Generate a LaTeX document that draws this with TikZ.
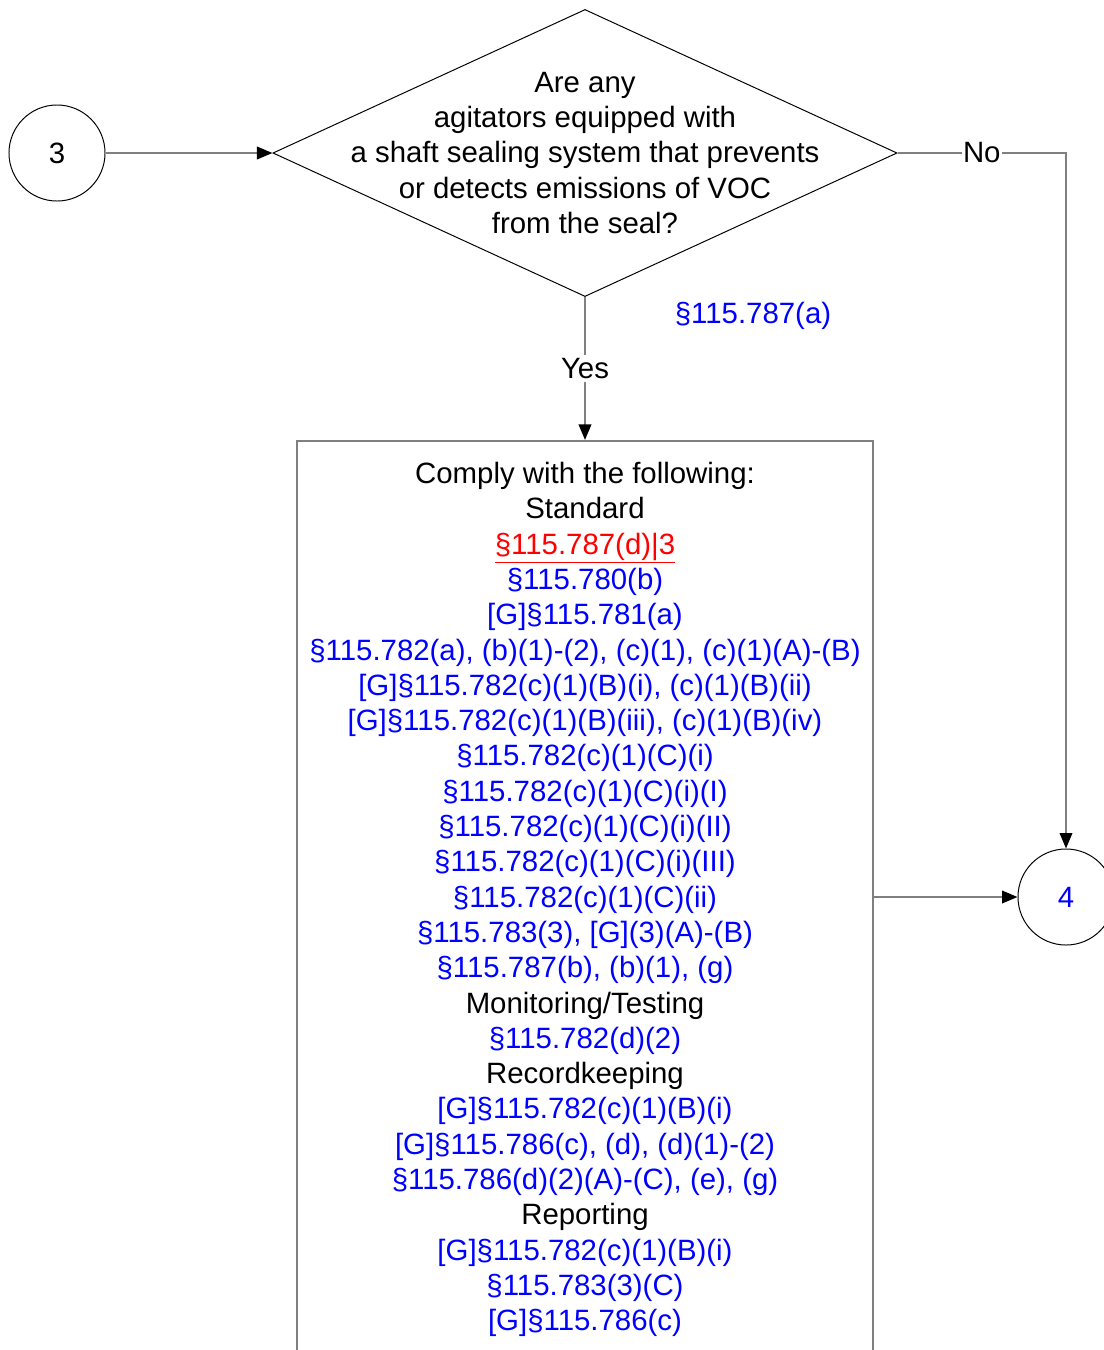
\documentclass[tikz,border=0pt]{standalone}
\usepackage{fontspec}
\setmainfont{Liberation Sans}
\usetikzlibrary{shapes.geometric, arrows.meta, positioning}

\begin{document}
\begin{tikzpicture}[x=0.025cm, y=-0.025cm, font=\fontsize{20.9}{25.1}\selectfont,
  conn/.style={draw=gray, line width=1.1pt, -{Triangle[length=11pt, width=9pt, color=black]}},
  onref/.style={circle, draw=black, line width=0.7pt, minimum size=2.4cm, inner sep=0pt}]
\useasboundingbox (0,0) rectangle (1104,1350);
\node[onref] (C3) at (57,153) {3};
\node[diamond, draw=black, line width=0.7pt, minimum width=15.6cm, minimum height=7.175cm, inner sep=0pt] (Q) at (585,153) {};
\node[align=center, inner sep=0pt] (QT) at (Q.center) {Are any\\agitators equipped with\\a shaft sealing system that prevents\\or detects emissions of VOC\\from the seal?};
\node[onref] (C4) at (1066,897) {\textcolor{blue}{4}};
\node[draw=gray, line width=1.4pt, minimum width=14.4cm, minimum height=22.8cm, inner sep=0pt] (B) at (585,897) {};
\node[align=center, inner sep=0pt, anchor=north] (BT) at (585,462) {Comply with the following:\\
Standard\\
\textcolor{red}{\setlength{\fboxrule}{0pt}\underline{§115.787(d)|3}}\\
\textcolor{blue}{§115.780(b)}\\
\textcolor{blue}{[G]§115.781(a)}\\
\textcolor{blue}{§115.782(a), (b)(1)-(2), (c)(1), (c)(1)(A)-(B)}\\
\textcolor{blue}{[G]§115.782(c)(1)(B)(i), (c)(1)(B)(ii)}\\
\textcolor{blue}{[G]§115.782(c)(1)(B)(iii), (c)(1)(B)(iv)}\\
\textcolor{blue}{§115.782(c)(1)(C)(i)}\\
\textcolor{blue}{§115.782(c)(1)(C)(i)(I)}\\
\textcolor{blue}{§115.782(c)(1)(C)(i)(II)}\\
\textcolor{blue}{§115.782(c)(1)(C)(i)(III)}\\
\textcolor{blue}{§115.782(c)(1)(C)(ii)}\\
\textcolor{blue}{§115.783(3), [G](3)(A)-(B)}\\
\textcolor{blue}{§115.787(b), (b)(1), (g)}\\
Monitoring/Testing\\
\textcolor{blue}{§115.782(d)(2)}\\
Recordkeeping\\
\textcolor{blue}{[G]§115.782(c)(1)(B)(i)}\\
\textcolor{blue}{[G]§115.786(c), (d), (d)(1)-(2)}\\
\textcolor{blue}{§115.786(d)(2)(A)-(C), (e), (g)}\\
Reporting\\
\textcolor{blue}{[G]§115.782(c)(1)(B)(i)}\\
\textcolor{blue}{§115.783(3)(C)}\\
\textcolor{blue}{[G]§115.786(c)}};
\node[text=blue] (R) at (753,316) {§115.787(a)};
\draw[conn] (C3) -- (Q);
\draw[conn] (Q.south) -- node[fill=white, inner sep=2pt] (Y) {Yes} (B.north);
\draw[conn] (Q.east) -- node[fill=white, inner sep=1pt] (N) {No} (Q.east -| C4) -- (C4);
\draw[conn] (B.east) -- (C4);
\end{tikzpicture}
\end{document}
